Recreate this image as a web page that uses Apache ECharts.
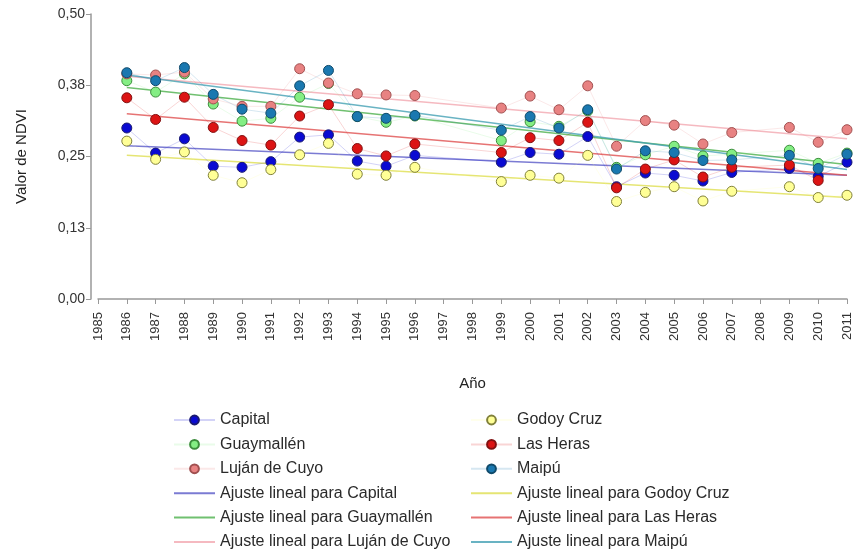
<!DOCTYPE html>
<html>
<head>
<meta charset="utf-8">
<script src="https://cdn.jsdelivr.net/npm/echarts@6/dist/echarts.min.js"></script>
<style>
  html, body { margin: 0; padding: 0; background: #fff; }
  #chart { width: 855px; height: 556px; }
</style>
</head>
<body>
<div id="chart"></div>
<script>
  // años con dato
  var years = [1986, 1987, 1988, 1989, 1990, 1991, 1992, 1993, 1994, 1995, 1996,
               1999, 2000, 2001, 2002, 2003, 2004, 2005, 2006, 2007, 2009, 2010, 2011];

  // NDVI por departamento
  var capital    = [0.300, 0.256, 0.281, 0.233, 0.231, 0.241, 0.284, 0.288, 0.242, 0.233, 0.252,
                    0.240, 0.257, 0.254, 0.285, 0.197, 0.221, 0.217, 0.207, 0.222, 0.229, 0.215, 0.240];
  var godoyCruz  = [0.277, 0.245, 0.258, 0.217, 0.204, 0.227, 0.253, 0.273, 0.219, 0.217, 0.231,
                    0.206, 0.217, 0.212, 0.252, 0.171, 0.187, 0.197, 0.172, 0.189, 0.197, 0.178, 0.182];
  var guaymallen = [0.383, 0.363, 0.395, 0.342, 0.312, 0.317, 0.354, 0.378, 0.320, 0.310, 0.321,
                    0.278, 0.311, 0.303, 0.330, 0.231, 0.253, 0.268, 0.251, 0.254, 0.261, 0.238, 0.256];
  var lasHeras   = [0.353, 0.315, 0.354, 0.301, 0.278, 0.270, 0.321, 0.341, 0.264, 0.251, 0.272,
                    0.257, 0.283, 0.278, 0.310, 0.195, 0.228, 0.244, 0.214, 0.231, 0.235, 0.208, null];
  var lujan      = [0.395, 0.393, 0.398, 0.351, 0.338, 0.338, 0.404, 0.379, 0.360, 0.358, 0.357,
                    0.335, 0.356, 0.332, 0.374, 0.268, 0.313, 0.305, 0.272, 0.292, 0.301, 0.275, 0.297];
  var maipu      = [0.397, 0.383, 0.406, 0.359, 0.333, 0.326, 0.374, 0.401, 0.320, 0.317, 0.322,
                    0.296, 0.320, 0.300, 0.332, 0.228, 0.260, 0.257, 0.243, 0.244, 0.252, 0.229, 0.254];

  // ajuste lineal: valor en el primer y ultimo año
  var fitYears      = [1986, 2011];
  var fitCapital    = [0.269, 0.217];
  var fitGodoyCruz  = [0.252, 0.178];
  var fitGuaymallen = [0.371, 0.236];
  var fitLasHeras   = [0.325, 0.217];
  var fitLujan      = [0.391, 0.281];
  var fitMaipu      = [0.393, 0.227];

  var yTicks = [0, 0.125, 0.25, 0.375, 0.5];

  var font = 'Liberation Sans';

  function pairs(xs, ys) {
    return xs.map(function (x, i) { return [x, ys[i]]; });
  }

  function points(name, values, fill, border) {
    return {
      name: name,
      type: 'line',
      data: pairs(years, values),
      symbol: 'circle',
      symbolSize: 10,
      z: 3,
      itemStyle: { color: fill, borderColor: border, borderWidth: 1 },
      lineStyle: { color: fill, width: 1, opacity: 0.18 },
      emphasis: { disabled: true }
    };
  }

  function fit(name, values, color) {
    return {
      name: name,
      type: 'line',
      data: pairs(fitYears, values),
      symbol: 'none',
      z: 2,
      itemStyle: { color: color },
      lineStyle: { color: color, width: 1.5, opacity: 0.8 },
      emphasis: { disabled: true }
    };
  }

  // entradas de leyenda: las de ajuste solo muestran la linea
  function legendItems(names) {
    return names.map(function (n) {
      if (n.indexOf('Ajuste') === 0) {
        return { name: n, itemStyle: { opacity: 0 } };
      }
      return { name: n };
    });
  }

  var legendText = { fontSize: 16, color: '#2a2a2a', fontFamily: font };

  var option = {
    animation: false,
    grid: { left: 98, right: 8, top: 14, bottom: 257 },
    legend: [
      {
        left: 173, top: 412, height: 300, padding: 0, orient: 'vertical',
        itemWidth: 41, itemHeight: 11, itemGap: 8.4,
        textStyle: legendText,
        data: legendItems(['Capital', 'Guaymallén', 'Luján de Cuyo',
               'Ajuste lineal para Capital', 'Ajuste lineal para Guaymallén', 'Ajuste lineal para Luján de Cuyo'])
      },
      {
        left: 470, top: 412, height: 300, padding: 0, orient: 'vertical',
        itemWidth: 41, itemHeight: 11, itemGap: 8.4,
        textStyle: legendText,
        data: legendItems(['Godoy Cruz', 'Las Heras', 'Maipú',
               'Ajuste lineal para Godoy Cruz', 'Ajuste lineal para Las Heras', 'Ajuste lineal para Maipú'])
      }
    ],
    xAxis: {
      type: 'value',
      min: 1985, max: 2011, interval: 1,
      offset: 7,
      name: 'Año',
      nameLocation: 'middle',
      nameGap: 70,
      nameTextStyle: { fontSize: 15, color: '#222', fontFamily: font },
      axisLine: { lineStyle: { color: '#999', width: 1.5 } },
      axisTick: { length: 5, lineStyle: { color: '#999' } },
      axisLabel: {
        rotate: 90, fontSize: 13, color: '#333', fontFamily: font, margin: 6,
        formatter: function (v) { return String(v); }
      },
      splitLine: { show: false }
    },
    yAxis: {
      type: 'value',
      min: yTicks[0], max: yTicks[yTicks.length - 1], interval: yTicks[1],
      offset: 7,
      name: 'Valor de NDVI',
      nameLocation: 'middle',
      nameGap: 62,
      nameTextStyle: { fontSize: 15, color: '#222', fontFamily: font },
      axisLine: { show: true, lineStyle: { color: '#999', width: 1.5 } },
      axisTick: { show: true, length: 5, lineStyle: { color: '#999' } },
      axisLabel: {
        fontSize: 14, color: '#333', fontFamily: font, margin: 6,
        formatter: function (v) { return v.toFixed(2).replace('.', ','); }
      },
      splitLine: { show: false }
    },
    series: [
      fit('Ajuste lineal para Capital', fitCapital, '#5a5ac8'),
      fit('Ajuste lineal para Godoy Cruz', fitGodoyCruz, '#dede50'),
      fit('Ajuste lineal para Guaymallén', fitGuaymallen, '#4cb04c'),
      fit('Ajuste lineal para Las Heras', fitLasHeras, '#e05050'),
      fit('Ajuste lineal para Luján de Cuyo', fitLujan, '#f2a8b0'),
      fit('Ajuste lineal para Maipú', fitMaipu, '#44a0b4'),
      points('Capital', capital, '#0a0ad2', '#1a1a70'),
      points('Godoy Cruz', godoyCruz, '#ffff96', '#80803a'),
      points('Guaymallén', guaymallen, '#84ee84', '#3c8c3c'),
      points('Las Heras', lasHeras, '#dc1414', '#801010'),
      points('Luján de Cuyo', lujan, '#e88282', '#a05050'),
      points('Maipú', maipu, '#1a78b0', '#104a6a')
    ]
  };

  var chart = echarts.init(document.getElementById('chart'));
  chart.setOption(option);
</script>
</body>
</html>
